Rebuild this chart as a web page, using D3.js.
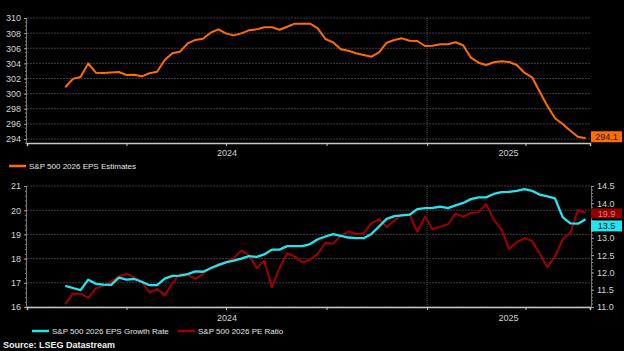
<!DOCTYPE html>
<html>
<head>
<meta charset="utf-8">
<script src="https://cdn.jsdelivr.net/npm/d3@7"></script>
<style>
  body { margin: 0; background: #000; }
  svg { display: block; font-family: "Liberation Sans", Arial, sans-serif; }
</style>
</head>
<body>
<div id="chart"></div>
<script>
// Weekly readings, Feb 2024 -> late May 2025
const epsEstimates = [
  300.84, 301.95, 302.2, 304.0, 302.77, 302.73, 302.8, 302.86, 302.46, 302.5,
  302.29, 302.69, 302.9, 304.45, 305.35, 305.55, 306.65, 307.1, 307.26, 308.06,
  308.5, 307.97, 307.7, 307.97, 308.37, 308.5, 308.77, 308.77, 308.45, 308.85,
  309.25, 309.25, 309.25, 308.63, 307.22, 306.78, 305.86, 305.68, 305.33, 305.1,
  304.88, 305.46, 306.73, 307.09, 307.31, 307.0, 306.96, 306.3, 306.34, 306.52,
  306.52, 306.79, 306.39, 304.75, 304.09, 303.78, 304.14, 304.27, 304.18, 303.78,
  302.77, 302.16, 300.26, 298.36, 296.74, 295.98, 295.1, 294.3, 294.1
];
const peRatio = [
  16.12, 16.55, 16.55, 16.38, 16.77, 16.88, 17.05, 17.26, 17.37, 17.23,
  17.05, 16.6, 16.75, 16.48, 16.99, 17.36, 17.33, 17.16, 17.36, 17.61,
  17.78, 17.84, 18.02, 18.33, 18.15, 17.61, 17.91, 16.82, 17.61, 18.22,
  18.08, 17.84, 17.95, 18.2, 18.65, 18.62, 18.94, 19.12, 19.01, 19.05,
  19.46, 19.63, 19.3, 19.57, 19.82, 19.82, 19.12, 19.73, 19.21, 19.32,
  19.42, 19.86, 19.73, 19.88, 19.92, 20.25, 19.6, 19.21, 18.4, 18.68,
  18.84, 18.74, 18.2, 17.65, 18.08, 18.8, 19.07, 20.01, 19.9
];
const epsGrowth = [
  11.61, 11.55, 11.49, 11.79, 11.67, 11.65, 11.64, 11.85, 11.79, 11.81,
  11.73, 11.63, 11.63, 11.82, 11.9, 11.91, 11.95, 12.03, 12.02, 12.12,
  12.21, 12.29, 12.34, 12.4, 12.47, 12.45, 12.52, 12.66, 12.66, 12.76,
  12.76, 12.76, 12.82, 12.96, 13.04, 13.11, 13.06, 13.01, 12.99, 12.99,
  13.11, 13.33, 13.55, 13.63, 13.65, 13.67, 13.83, 13.86, 13.87, 13.9,
  13.86, 13.94, 14.01, 14.12, 14.17, 14.17, 14.27, 14.32, 14.33, 14.36,
  14.41, 14.36, 14.25, 14.2, 14.14, 13.6, 13.42, 13.41, 13.54
];
const topTicks = [294, 296, 298, 300, 302, 304, 306, 308, 310];
const leftTicks = [16, 17, 18, 19, 20, 21];
const rightTicks = [11.0, 11.5, 12.0, 12.5, 13.0, 13.5, 14.0, 14.5];
const yearLabels = [2024, 2025];
const lastEps = "294.1", lastPe = "19.9", lastGrowth = "13.5";

function main() {
    const width = 624, height = 351;
    const left = 27, right = 590;
    const orange = "#ff6d00", cyan = "#22e6ef", red = "#a00000";

    const svg = d3.select("#chart").append("svg")
        .attr("width", width)
        .attr("height", height);
    svg.append("rect").attr("width", width).attr("height", height).attr("fill", "#000");

    const weeks = d3.timeMonday.range(new Date(2024, 1, 5), new Date(2025, 4, 27));
    const domainStart = new Date(2024, 0, 1), domainEnd = new Date(2025, 4, 30);
    const x = d3.scaleTime().domain([domainStart, domainEnd]).range([left, right]);
    const quarters = d3.timeMonth.every(3).range(new Date(2024, 3, 1), domainEnd);

    // Scales for both panels
    const yTop = d3.scaleLinear().domain([294 - 4 / 7.5625, 310]).range([143, 18]);
    const yL = d3.scaleLinear().domain([16, 21]).range([307, 186]);
    const yR = d3.scaleLinear().domain([11, 14.5]).range([307, 186]);

    // Shared frame: grid, axes, year labels
    function drawFrame(y, ticks, minorStep, yTopPx, yBase, labelY) {
        const g = svg.append("g");
        g.selectAll(".grid")
            .data(ticks)
            .join("line")
            .attr("x1", left).attr("x2", right)
            .attr("y1", d => y(d)).attr("y2", d => y(d))
            .attr("stroke", "#3c3c3c")
            .attr("stroke-dasharray", "2,1");

        // year boundary
        const jan25 = x(new Date(2025, 0, 1));
        g.append("line")
            .attr("x1", jan25).attr("x2", jan25)
            .attr("y1", yTopPx).attr("y2", yBase)
            .attr("stroke", "#4a4a4a")
            .attr("stroke-dasharray", "1,1");

        // left axis with minor ticks
        const ext = y.domain();
        g.append("g")
            .attr("transform", `translate(${left},0)`)
            .call(d3.axisLeft(y).tickValues(d3.range(Math.ceil(ext[0] / minorStep) * minorStep, ext[1] + 1e-6, minorStep)).tickSize(2).tickFormat(""))
            .call(a => a.select(".domain").remove())
            .call(a => a.selectAll("line").attr("stroke", "#888"));
        g.append("g")
            .attr("transform", `translate(${left},0)`)
            .call(d3.axisLeft(y).tickValues(ticks).tickSize(3).tickPadding(3).tickFormat(d3.format("d")))
            .call(a => a.select(".domain").attr("stroke", "#777").attr("d", `M-0.5,${yTopPx}V${yBase}`))
            .call(a => a.selectAll("line").attr("stroke", "#999"))
            .call(a => a.selectAll("text").attr("fill", "#d4d4d4").style("font-size", "9px").style("font-family", "Liberation Sans, Arial, sans-serif"));

        // bottom axis
        g.append("g")
            .attr("transform", `translate(0,${yBase})`)
            .call(d3.axisBottom(x).tickValues(quarters).tickSize(3).tickFormat(""))
            .call(a => a.select(".domain").attr("stroke", "#c8c8c8").attr("stroke-width", 1.5))
            .call(a => a.selectAll("line").attr("stroke", "#c8c8c8"));

        g.selectAll(".year")
            .data(yearLabels)
            .join("text")
            .attr("x", d => {
                const a = Math.max(x(new Date(d, 0, 1)), left);
                const b = Math.min(x(new Date(d + 1, 0, 1)), right);
                return (a + b) / 2;
            })
            .attr("y", labelY)
            .attr("text-anchor", "middle")
            .attr("fill", "#d4d4d4")
            .style("font-size", "9px")
            .text(d => d);
    }

    drawFrame(yTop, topTicks, 0.5, 18, 143, 156);
    drawFrame(yL, leftTicks, 0.2, 186, 307, 320.5);

    // Right axis (EPS growth rate); the label hidden behind the last-value box is left out
    svg.append("g")
        .attr("transform", `translate(${right + 1},0)`)
        .call(d3.axisRight(yR).tickValues(d3.range(11, 14.51, 0.1)).tickSize(2).tickFormat(""))
        .call(a => a.select(".domain").remove())
        .call(a => a.selectAll("line").attr("stroke", "#888"));
    svg.append("g")
        .attr("transform", `translate(${right + 1},0)`)
        .call(d3.axisRight(yR).tickValues(rightTicks).tickSize(3).tickPadding(3)
            .tickFormat(d => d3.format(".1f")(d) === lastGrowth ? "" : d3.format(".1f")(d)))
        .call(a => a.select(".domain").attr("stroke", "#777"))
        .call(a => a.selectAll("line").attr("stroke", "#999"))
        .call(a => a.selectAll("text").attr("fill", "#d4d4d4").style("font-size", "9px").style("font-family", "Liberation Sans, Arial, sans-serif"));

    // Lines
    const lineTop = d3.line().x((d, i) => x(weeks[i])).y(d => yTop(d));
    const linePe = d3.line().x((d, i) => x(weeks[i])).y(d => yL(d));
    const lineGrowth = d3.line().x((d, i) => x(weeks[i])).y(d => yR(d));

    svg.append("path").datum(epsEstimates)
        .attr("d", lineTop).attr("fill", "none")
        .attr("stroke", orange).attr("stroke-width", 2).attr("stroke-linejoin", "round");
    svg.append("path").datum(peRatio)
        .attr("d", linePe).attr("fill", "none")
        .attr("stroke", red).attr("stroke-width", 2).attr("stroke-linejoin", "round");
    svg.append("path").datum(epsGrowth)
        .attr("d", lineGrowth).attr("fill", "none")
        .attr("stroke", cyan).attr("stroke-width", 2.3).attr("stroke-linejoin", "round");

    // Last value boxes
    function valueBox(cy, h, label, fill, color) {
        const g = svg.append("g");
        g.append("rect")
            .attr("x", right + 1).attr("y", cy - h / 2)
            .attr("width", 31).attr("height", h)
            .attr("fill", fill);
        g.append("text")
            .attr("x", right + 16.5).attr("y", cy + 3.2)
            .attr("text-anchor", "middle")
            .attr("fill", color)
            .style("font-size", "9px")
            .text(label);
    }
    valueBox(yTop(+lastEps) - 1.5, 11, lastEps, orange, "#1a1a1a");
    const peY = yL(+lastPe) + 0.8;
    valueBox(peY, 10, lastPe, "#8e0000", "#f07a7a");
    valueBox(Math.max(yR(+lastGrowth), peY + 12.5), 11, lastGrowth, cyan, "#000");

    // Legends
    function legendItem(x0, y0, color, label) {
        svg.append("line")
            .attr("x1", x0).attr("x2", x0 + 17)
            .attr("y1", y0).attr("y2", y0)
            .attr("stroke", color).attr("stroke-width", 2.5);
        svg.append("text")
            .attr("x", x0 + 20).attr("y", y0 + 2.9)
            .attr("fill", "#e6e6e6")
            .style("font-size", "8px")
            .text(label);
    }
    legendItem(9, 166, orange, "S&P 500 2026 EPS Estimates");
    legendItem(32, 331, cyan, "S&P 500 2026 EPS Growth Rate");
    legendItem(178, 331, red, "S&P 500 2026 PE Ratio");

    svg.append("text")
        .attr("x", 3).attr("y", 347.5)
        .attr("fill", "#f0f0f0")
        .style("font-size", "9px")
        .style("font-weight", "bold")
        .text("Source: LSEG Datastream");
}

main();
</script>
</body>
</html>
